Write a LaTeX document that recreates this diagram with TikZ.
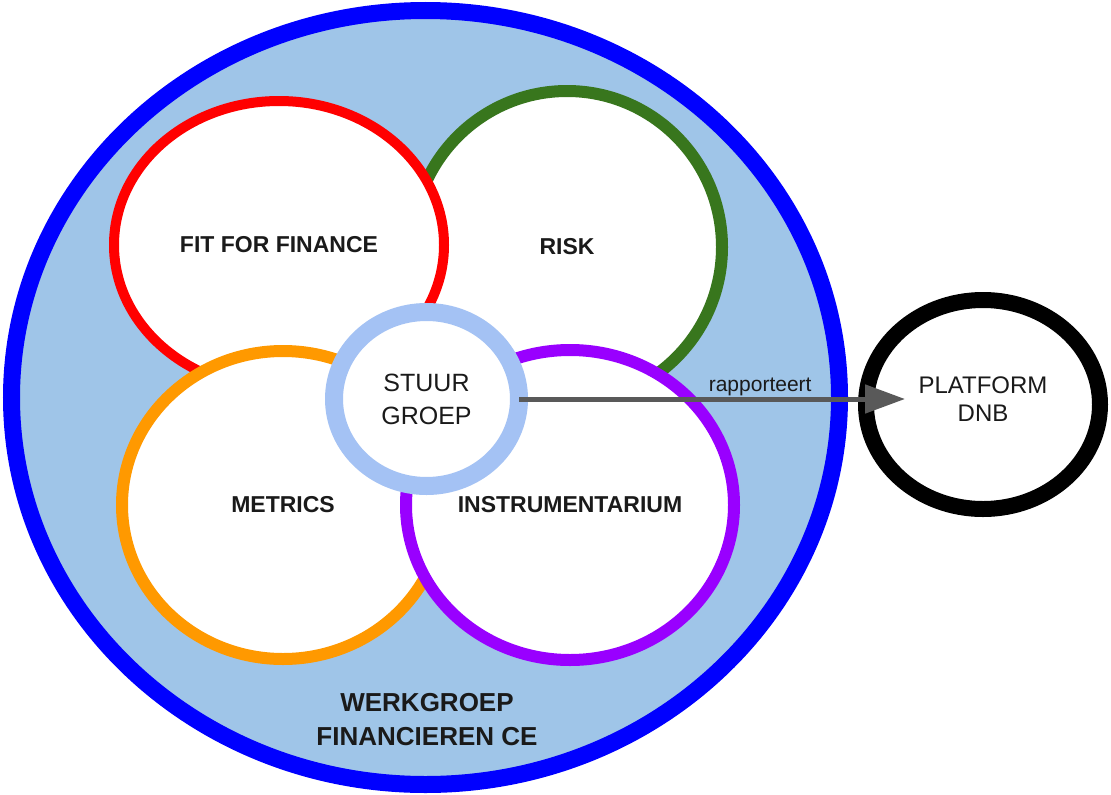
\documentclass[tikz,border=0pt]{standalone}
\usepackage{fontspec}
\setmainfont{Liberation Sans}
\usetikzlibrary{shapes.geometric,arrows.meta}
\definecolor{wgblue}{HTML}{0000FF}
\definecolor{wgfill}{HTML}{9FC5E8}
\definecolor{ffred}{HTML}{FF0000}
\definecolor{riskgreen}{HTML}{38761D}
\definecolor{metorange}{HTML}{FF9900}
\definecolor{instpurple}{HTML}{9900FF}
\definecolor{stuurring}{HTML}{A4C2F4}
\definecolor{arrowgray}{HTML}{595959}
\definecolor{textdark}{HTML}{1A1A1A}
\begin{document}
\begin{tikzpicture}[x=1pt,y=-1pt,
  oval/.style={ellipse, draw, fill=white, inner sep=0pt, outer sep=0pt, align=center, text=textdark},
  boldlabel/.style={font=\fontsize{23}{28}\selectfont\bfseries},
  plainlabel/.style={font=\fontsize{25}{33}\selectfont},
  connector/.style={arrowgray, line width=5pt, -{Triangle[length=40pt,width=28pt]}}
]
\fill[white] (0,0) rectangle (1111,795);
\useasboundingbox (0,0) rectangle (1111,795);

\node[oval, draw=wgblue, fill=wgfill, line width=17pt, minimum width=828pt, minimum height=774pt] (wg) at (425.5,397.5) {};

\node[oval, boldlabel, draw=riskgreen, line width=12pt, minimum width=310pt, minimum height=312pt] (risk) at (567,247) {RISK};
\node[oval, boldlabel, draw=ffred, line width=10pt, minimum width=330pt, minimum height=288pt] (fff) at (279,245) {FIT FOR FINANCE};
\node[oval, boldlabel, draw=metorange, line width=12pt, minimum width=322pt, minimum height=308pt] (metrics) at (283,505) {METRICS};
\node[oval, boldlabel, draw=instpurple, line width=12pt, minimum width=328pt, minimum height=310pt] (inst) at (570,505) {INSTRUMENTARIUM};

\node[oval, plainlabel, draw=stuurring, line width=18pt, minimum width=185pt, minimum height=174pt] (stuur) at (426.5,399) {STUUR\\GROEP};

\node[oval, draw=black, line width=16pt, minimum width=234pt, minimum height=209pt, font=\fontsize{24}{28}\selectfont, text depth=10pt] (dnb) at (983,404.5) {PLATFORM\\DNB};

\node[align=center, text=textdark, font=\fontsize{26}{34}\selectfont\bfseries] (wgtext) at (427,720) {WERKGROEP\\FINANCIEREN CE};

\draw[connector, shorten >=-39pt] (stuur.east) -- (stuur.east -| dnb.west)
  node[pos=0.695, anchor=base, yshift=8pt, text=textdark, font=\fontsize{21}{24}\selectfont] (rap) {rapporteert};
\end{tikzpicture}
\end{document}
